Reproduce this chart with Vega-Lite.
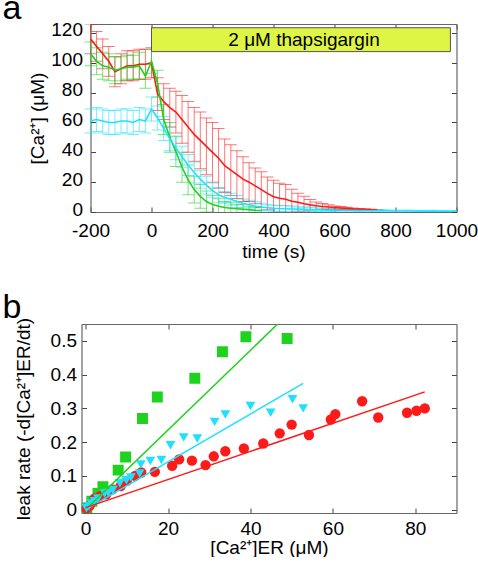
{
  "$schema": "https://vega.github.io/schema/vega-lite/v6.json",
  "autosize": {"type": "pad"},
  "padding": {"top": -9, "left": 2.5, "right": 0, "bottom": 0},
  "background": "white",
  "bounds": "flush",
  "spacing": 112,
  "config": {
    "font": "Liberation Sans",
    "view": {"stroke": null},
    "axis": {
      "domainColor": "#666",
      "domainWidth": 1.2,
      "tickColor": "#444",
      "tickSize": -5,
      "labelFontSize": 19,
      "titleFontSize": 19,
      "labelColor": "#000",
      "titleColor": "#000",
      "titleFontWeight": "normal",
      "labelFlush": false,
      "labelOverlap": false,
      "grid": false,
      "labelPadding": 8
    }
  },
  "datasets": {
    "timecourse": [
      {"s":"red","t":-200,"v":116,"e":10},{"s":"red","t":-180,"v":111,"e":10},{"s":"red","t":-160,"v":106,"e":10},{"s":"red","t":-140,"v":101,"e":10},{"s":"red","t":-120,"v":94,"e":10},{"s":"red","t":-100,"v":96,"e":10},{"s":"red","t":-80,"v":98,"e":10},{"s":"red","t":-60,"v":98,"e":10},{"s":"red","t":-40,"v":99,"e":10},{"s":"red","t":-20,"v":99,"e":10},{"s":"red","t":0,"v":100,"e":10},{"s":"red","t":20,"v":79,"e":11},{"s":"red","t":40,"v":74,"e":12},{"s":"red","t":60,"v":70,"e":13},{"s":"red","t":80,"v":67,"e":14},{"s":"red","t":100,"v":62,"e":16},{"s":"red","t":120,"v":57,"e":17},{"s":"red","t":140,"v":52,"e":18},{"s":"red","t":160,"v":48,"e":19},{"s":"red","t":180,"v":44,"e":19},{"s":"red","t":200,"v":40,"e":20},{"s":"red","t":220,"v":36,"e":20},{"s":"red","t":240,"v":31,"e":18},{"s":"red","t":260,"v":28,"e":17},{"s":"red","t":280,"v":25,"e":16},{"s":"red","t":300,"v":22,"e":15},{"s":"red","t":320,"v":20,"e":13},{"s":"red","t":340,"v":17.5,"e":12},{"s":"red","t":360,"v":15,"e":12},{"s":"red","t":380,"v":12.5,"e":11},{"s":"red","t":400,"v":10.2,"e":11},{"s":"red","t":420,"v":9.2,"e":10},{"s":"red","t":440,"v":8.5,"e":10},{"s":"red","t":460,"v":7.2,"e":8},{"s":"red","t":480,"v":6.5,"e":6},{"s":"red","t":500,"v":5.5,"e":5},{"s":"red","t":520,"v":4.8,"e":3.5},{"s":"red","t":540,"v":4.2,"e":2.5},{"s":"red","t":560,"v":3.7,"e":2},{"s":"red","t":580,"v":3.3,"e":1.5},{"s":"red","t":600,"v":3,"e":1},{"s":"red","t":620,"v":2.7,"e":1},{"s":"red","t":640,"v":2.4,"e":0.8},{"s":"red","t":660,"v":2.1,"e":0.6},{"s":"red","t":680,"v":1.9,"e":0.5},{"s":"red","t":700,"v":1.7,"e":0.5},{"s":"red","t":720,"v":1.5,"e":0.4},{"s":"red","t":740,"v":1.3,"e":0.4},
      {"s":"green","t":-200,"v":106,"e":8},{"s":"green","t":-180,"v":101,"e":9},{"s":"green","t":-160,"v":98,"e":9},{"s":"green","t":-140,"v":97,"e":9},{"s":"green","t":-120,"v":95,"e":9},{"s":"green","t":-100,"v":96,"e":8},{"s":"green","t":-80,"v":97,"e":8},{"s":"green","t":-60,"v":97,"e":8},{"s":"green","t":-40,"v":98,"e":9},{"s":"green","t":-20,"v":91,"e":8},{"s":"green","t":0,"v":101,"e":8},{"s":"green","t":20,"v":86,"e":9},{"s":"green","t":40,"v":62,"e":10},{"s":"green","t":60,"v":50,"e":10},{"s":"green","t":80,"v":40.5,"e":10},{"s":"green","t":100,"v":30,"e":10},{"s":"green","t":120,"v":21.5,"e":10},{"s":"green","t":140,"v":15,"e":9},{"s":"green","t":160,"v":10.5,"e":8},{"s":"green","t":180,"v":7,"e":7},{"s":"green","t":200,"v":5,"e":6},{"s":"green","t":220,"v":3.8,"e":5},{"s":"green","t":240,"v":3,"e":4},{"s":"green","t":260,"v":2.5,"e":4},{"s":"green","t":280,"v":2.2,"e":3},{"s":"green","t":300,"v":1.8,"e":3},{"s":"green","t":320,"v":1.5,"e":2},{"s":"green","t":340,"v":1.2,"e":2},{"s":"green","t":360,"v":1,"e":2},
      {"s":"cyan","t":-200,"v":61,"e":8},{"s":"cyan","t":-180,"v":62,"e":8},{"s":"cyan","t":-160,"v":61,"e":8},{"s":"cyan","t":-140,"v":60,"e":8},{"s":"cyan","t":-120,"v":60,"e":8},{"s":"cyan","t":-100,"v":61,"e":8},{"s":"cyan","t":-80,"v":61,"e":8},{"s":"cyan","t":-60,"v":60,"e":8},{"s":"cyan","t":-40,"v":62,"e":8},{"s":"cyan","t":-20,"v":61,"e":8},{"s":"cyan","t":0,"v":69,"e":8},{"s":"cyan","t":20,"v":63,"e":8},{"s":"cyan","t":40,"v":56,"e":8},{"s":"cyan","t":60,"v":49,"e":8},{"s":"cyan","t":80,"v":43,"e":8},{"s":"cyan","t":100,"v":37,"e":7},{"s":"cyan","t":120,"v":31.5,"e":7},{"s":"cyan","t":140,"v":26.5,"e":7},{"s":"cyan","t":160,"v":22,"e":6},{"s":"cyan","t":180,"v":18,"e":6},{"s":"cyan","t":200,"v":14.5,"e":5},{"s":"cyan","t":220,"v":11.5,"e":5},{"s":"cyan","t":240,"v":9.8,"e":4},{"s":"cyan","t":260,"v":8.5,"e":4},{"s":"cyan","t":280,"v":7,"e":4},{"s":"cyan","t":300,"v":5.7,"e":3},{"s":"cyan","t":320,"v":4.8,"e":3},{"s":"cyan","t":340,"v":3.8,"e":3},{"s":"cyan","t":360,"v":3.3,"e":2.5},{"s":"cyan","t":380,"v":2.9,"e":2},{"s":"cyan","t":400,"v":2.5,"e":2},{"s":"cyan","t":420,"v":2.3,"e":2},{"s":"cyan","t":440,"v":2.2,"e":2},{"s":"cyan","t":460,"v":2,"e":2},{"s":"cyan","t":480,"v":1.9,"e":1.5},{"s":"cyan","t":500,"v":1.8,"e":1.5},{"s":"cyan","t":520,"v":1.6,"e":1.5},{"s":"cyan","t":540,"v":1.5,"e":1.2},{"s":"cyan","t":560,"v":1.3,"e":1.2},{"s":"cyan","t":580,"v":1.2,"e":1},{"s":"cyan","t":600,"v":1.1,"e":1},{"s":"cyan","t":640,"v":1,"e":1},{"s":"cyan","t":680,"v":0.9,"e":0.8},{"s":"cyan","t":720,"v":0.8,"e":0.8},{"s":"cyan","t":760,"v":0.8,"e":0.8},{"s":"cyan","t":800,"v":0.7,"e":0.7},{"s":"cyan","t":840,"v":0.7,"e":0.7},{"s":"cyan","t":880,"v":0.6,"e":0.6},{"s":"cyan","t":920,"v":0.6,"e":0.6},{"s":"cyan","t":960,"v":0.5,"e":0.5},{"s":"cyan","t":1000,"v":0.5,"e":0.5}
    ],
    "treatment": [
      {"start": 0, "end": 980, "low": 107.5, "high": 123.5, "mid_t": 500, "mid_v": 115.5, "label": "2 μM thapsigargin"}
    ],
    "leak": [
      {"s":"green","x":0.3,"y":0.005},{"s":"green","x":1.5,"y":0.025},{"s":"green","x":3,"y":0.048},{"s":"green","x":4.2,"y":0.068},{"s":"green","x":7.9,"y":0.117},{"s":"green","x":9.7,"y":0.156},{"s":"green","x":13.8,"y":0.27},{"s":"green","x":17.4,"y":0.334},{"s":"green","x":26.5,"y":0.389},{"s":"green","x":33.2,"y":0.468},{"s":"green","x":38.9,"y":0.512},{"s":"green","x":48.9,"y":0.507},
      {"s":"red","x":0.2,"y":0.004},{"s":"red","x":1,"y":0.012},{"s":"red","x":2.2,"y":0.033},{"s":"red","x":3.5,"y":0.04},{"s":"red","x":5,"y":0.045},{"s":"red","x":6.5,"y":0.06},{"s":"red","x":8.5,"y":0.07},{"s":"red","x":10,"y":0.085},{"s":"red","x":12,"y":0.1},{"s":"red","x":13.5,"y":0.11},{"s":"red","x":16.8,"y":0.112},{"s":"red","x":21,"y":0.13},{"s":"red","x":22.7,"y":0.149},{"s":"red","x":25.8,"y":0.145},{"s":"red","x":29.1,"y":0.132},{"s":"red","x":31.1,"y":0.158},{"s":"red","x":33.9,"y":0.173},{"s":"red","x":38.4,"y":0.181},{"s":"red","x":43.1,"y":0.196},{"s":"red","x":47.1,"y":0.226},{"s":"red","x":50,"y":0.252},{"s":"red","x":54.2,"y":0.221},{"s":"red","x":59.5,"y":0.267},{"s":"red","x":60.6,"y":0.283},{"s":"red","x":67.1,"y":0.321},{"s":"red","x":71,"y":0.273},{"s":"red","x":78,"y":0.287},{"s":"red","x":80.3,"y":0.293},{"s":"red","x":82.3,"y":0.3},
      {"s":"cyan","x":0.2,"y":0.004},{"s":"cyan","x":0.8,"y":0.01},{"s":"cyan","x":1.4,"y":0.018},{"s":"cyan","x":2.2,"y":0.025},{"s":"cyan","x":3,"y":0.033},{"s":"cyan","x":4.6,"y":0.048},{"s":"cyan","x":5.5,"y":0.05},{"s":"cyan","x":6.6,"y":0.058},{"s":"cyan","x":8.3,"y":0.078},{"s":"cyan","x":9.9,"y":0.087},{"s":"cyan","x":11,"y":0.095},{"s":"cyan","x":13.1,"y":0.107},{"s":"cyan","x":13.4,"y":0.134},{"s":"cyan","x":15.7,"y":0.144},{"s":"cyan","x":18.4,"y":0.147},{"s":"cyan","x":20.6,"y":0.191},{"s":"cyan","x":23.8,"y":0.214},{"s":"cyan","x":27.1,"y":0.211},{"s":"cyan","x":31.3,"y":0.26},{"s":"cyan","x":33.9,"y":0.282},{"s":"cyan","x":40,"y":0.307},{"s":"cyan","x":44.9,"y":0.287},{"s":"cyan","x":50.2,"y":0.327},{"s":"cyan","x":52.8,"y":0.3}
    ],
    "fits": [
      {"s":"green","x":0,"y":0},{"s":"green","x":46.6,"y":0.55},
      {"s":"cyan","x":0,"y":0},{"s":"cyan","x":52.8,"y":0.374},
      {"s":"red","x":0,"y":0.006},{"s":"red","x":82.3,"y":0.349}
    ]
  },
  "vconcat": [
    {
      "width": 375,
      "height": 188,
      "title": {"text": "a", "anchor": "start", "frame": "group", "fontSize": 34, "fontWeight": "normal", "baseline": "alphabetic", "offset": -32, "dx": -79, "color": "#000"},
      "data": {"name": "timecourse"},
      "layer": [
        {
          "mark": {"type": "errorbar", "ticks": true, "size": 12, "thickness": 1, "opacity": 0.6, "clip": true},
          "encoding": {
            "x": {"field": "t", "type": "quantitative", "scale": {"domain": [-200, 1000], "range": [9, 375], "nice": false},
                  "axis": {"values": [-200, 0, 200, 400, 600, 800, 1000], "title": "time (s)", "titlePadding": 2, "labelPadding": 14, "labelExpr": "datum.value < 0 ? '-' + abs(datum.value) : '' + datum.value"}},
            "y": {"field": "v", "type": "quantitative", "scale": {"domain": [0, 126], "nice": false, "zero": false},
                  "axis": {"values": [0, 20, 40, 60, 80, 100, 120], "title": "[Ca²⁺] (μM)", "offset": -9, "titlePadding": 3, "labelPadding": 13, "labelOffset": -3}},
            "yError": {"field": "e"},
            "color": {"field": "s", "type": "nominal", "scale": {"domain": ["green", "red", "cyan"], "range": ["#1ed21e", "#ff1a1a", "#1ee1ff"]}, "legend": null}
          }
        },
        {
          "mark": {"type": "line", "strokeWidth": 1.6, "clip": true},
          "encoding": {
            "x": {"field": "t", "type": "quantitative", "axis": {"orient": "top", "labels": false, "title": null, "values": [-200, 0, 200, 400, 600, 800, 1000]}},
            "y": {"field": "v", "type": "quantitative", "axis": {"orient": "right", "labels": false, "title": null, "values": [0, 20, 40, 60, 80, 100, 120]}},
            "color": {"field": "s", "type": "nominal", "legend": null}
          }
        },
        {
          "data": {"name": "treatment"},
          "mark": {"type": "rect", "fill": "#dff545", "stroke": "#555", "strokeWidth": 1},
          "encoding": {
            "x": {"field": "start", "type": "quantitative", "axis": null},
            "x2": {"field": "end"},
            "y": {"field": "low", "type": "quantitative", "axis": null},
            "y2": {"field": "high"}
          }
        },
        {
          "data": {"name": "treatment"},
          "mark": {"type": "text", "fontSize": 19, "font": "Liberation Sans", "color": "#000", "baseline": "middle", "align": "center"},
          "encoding": {
            "x": {"field": "mid_t", "type": "quantitative", "axis": null},
            "y": {"field": "mid_v", "type": "quantitative", "axis": null},
            "text": {"field": "label"}
          }
        }
      ],
      "resolve": {"axis": {"x": "independent", "y": "independent"}}
    },
    {
      "width": 375,
      "height": 189,
      "title": {"text": "b", "anchor": "start", "frame": "group", "fontSize": 34, "fontWeight": "normal", "baseline": "alphabetic", "offset": -35, "dx": -79, "color": "#000"},
      "layer": [
        {
          "data": {"name": "leak"},
          "mark": {"type": "point", "filled": true, "opacity": 1, "clip": true},
          "encoding": {
            "x": {"field": "x", "type": "quantitative", "scale": {"domain": [-1, 90], "nice": false, "zero": false},
                  "axis": {"values": [0, 20, 40, 60, 80], "title": "[Ca²⁺]ER (μM)", "titlePadding": 0, "labelPadding": 11}},
            "y": {"field": "y", "type": "quantitative", "scale": {"domain": [-0.01, 0.55], "nice": false, "zero": false},
                  "axis": {"values": [0, 0.1, 0.2, 0.3, 0.4, 0.5], "format": ".1~f", "title": "leak rate (-d[Ca²⁺]ER/dt)", "titlePadding": 17, "labelPadding": 10}},
            "color": {"field": "s", "type": "nominal", "legend": null},
            "shape": {"field": "s", "type": "nominal", "scale": {"domain": ["green", "red", "cyan"], "range": ["square", "circle", "triangle-down"]}, "legend": null},
            "size": {"field": "s", "type": "nominal", "scale": {"domain": ["green", "red", "cyan"], "range": [120, 95, 100]}, "legend": null}
          }
        },
        {
          "data": {"name": "fits"},
          "mark": {"type": "line", "strokeWidth": 1.5, "clip": true},
          "encoding": {
            "x": {"field": "x", "type": "quantitative", "axis": {"orient": "top", "labels": false, "title": null, "values": [0, 20, 40, 60, 80]}},
            "y": {"field": "y", "type": "quantitative", "axis": {"orient": "right", "labels": false, "title": null, "values": [0, 0.1, 0.2, 0.3, 0.4, 0.5]}},
            "color": {"field": "s", "type": "nominal", "legend": null}
          }
        }
      ],
      "resolve": {"axis": {"x": "independent", "y": "independent"}}
    }
  ]
}
